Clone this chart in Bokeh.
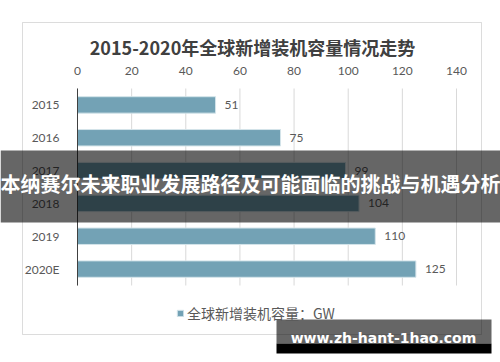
from bokeh.plotting import figure
from bokeh.models import (ColumnDataSource, Range1d, FixedTicker, Label, LinearAxis,
                          BoxAnnotation, Legend, LegendItem)
from bokeh.core.properties import value
from bokeh.embed import file_html
from bokeh.resources import INLINE

title_text = "2015-2020年全球新增装机容量情况走势"
years = ["2015", "2016", "2017", "2018", "2019", "2020E"]
capacity = [51, 75, 99, 104, 110, 125]
x_ticks = [0, 20, 40, 60, 80, 100, 120, 140]
series_name = "全球新增装机容量：GW"
banner_text = "本纳赛尔未来职业发展路径及可能面临的挑战与机遇分析"
watermark_text = "www.zh-hant-1hao.com"

CJK = "Noto Sans CJK SC"
NUM = "Lato"
BAR = "#73A2B5"
TXT = "#595959"

# canvas and plot-area geometry (pixels)
W, H = 500, 362
PL, PR, PT, PB = 77, 456, 88, 285
XMIN, XMAX = x_ticks[0], x_ticks[-1]
n = len(years)
ux = (PR - PL) / (XMAX - XMIN)
uy = (PB - PT) / n
x_range = Range1d(XMIN - PL / ux, XMAX + (W - PR) / ux)
# category i is centred at index i (top to bottom)
y_range = Range1d(start=(H - PT) / uy - 0.5, end=-PT / uy - 0.5)

def sy(px):
    return H - px

idx = list(range(n))
src = ColumnDataSource(dict(pos=idx, year=years, cap=capacity, lab=[str(v) for v in capacity]))

p = figure(width=W, height=H, output_backend="svg", toolbar_location=None,
           x_range=x_range, y_range=y_range, x_axis_location=None, y_axis_location=None,
           min_border=0)
p.outline_line_color = None
p.background_fill_color = "white"
p.border_fill_color = "white"
p.xgrid.visible = False
p.ygrid.visible = False

# outer chart border
p.add_layout(BoxAnnotation(left=22, right=481, bottom=sy(334), top=sy(22),
                           left_units="screen", right_units="screen",
                           bottom_units="screen", top_units="screen",
                           fill_color=None, line_color="#8c8c8c", line_width=1, level="underlay"))

# vertical grid lines
p.segment(x0=x_ticks, x1=x_ticks, y0=[-0.5] * len(x_ticks), y1=[n - 0.5] * len(x_ticks),
          line_color="#d9d9d9", line_width=1)

bars = p.hbar(y="pos", right="cap", left=0, height=0.5, source=src,
              fill_color=BAR, line_color="#d4e4ea", line_width=1)
p.text(x="cap", y="pos", text="lab", source=src, x_offset=9, text_baseline="middle",
       text_font=value(NUM), text_font_size="12px", text_color=TXT)

xa = LinearAxis(fixed_location=-0.5, ticker=FixedTicker(ticks=x_ticks), bounds=(XMIN, XMAX))
xa.axis_line_color = None
xa.major_tick_line_color = None
xa.minor_tick_line_color = None
xa.major_label_standoff = 8
xa.major_label_text_font = NUM
xa.major_label_text_font_size = "12px"
xa.major_label_text_color = TXT
p.add_layout(xa, "above")

ya = LinearAxis(fixed_location=0, ticker=FixedTicker(ticks=idx), bounds=(-0.5, n - 0.5),
                major_label_overrides={i: y for i, y in zip(idx, years)})
ya.axis_line_color = "#404040"
ya.axis_line_width = 1
ya.major_tick_line_color = None
ya.minor_tick_line_color = None
ya.major_label_standoff = 12
ya.major_label_text_font = NUM
ya.major_label_text_font_size = "12px"
ya.major_label_text_color = TXT
p.add_layout(ya, "left")

p.add_layout(Label(x=252, y=sy(46), x_units="screen", y_units="screen", text=title_text,
                   text_align="center", text_baseline="middle", text_font=CJK,
                   text_font_style="bold", text_font_size="18px", text_color="#404040"))

legend = Legend(items=[LegendItem(label=series_name, renderers=[bars])],
                location=(176, sy(323)), orientation="horizontal", border_line_color=None,
                background_fill_alpha=0, padding=0, margin=0, glyph_width=8, glyph_height=8,
                label_standoff=3, label_text_font=CJK, label_text_font_size="14px",
                label_text_color=TXT)
p.add_layout(legend, "center")

# overlay banner
p.add_layout(BoxAnnotation(left=0, right=W, bottom=sy(222), top=sy(150),
                           left_units="screen", right_units="screen",
                           bottom_units="screen", top_units="screen",
                           fill_color="black", fill_alpha=0.6, line_color=None))
p.add_layout(Label(x=250, y=sy(183), x_units="screen", y_units="screen", text=banner_text,
                   text_align="center", text_baseline="middle", text_font=CJK,
                   text_font_style="bold", text_font_size="20px", text_color="white"))

# watermark
p.add_layout(BoxAnnotation(left=276, right=491, bottom=sy(343), top=sy(319),
                           left_units="screen", right_units="screen",
                           bottom_units="screen", top_units="screen",
                           fill_color="black", fill_alpha=0.6, line_color=None))
p.add_layout(BoxAnnotation(left=276, right=491, bottom=sy(353), top=sy(343),
                           left_units="screen", right_units="screen",
                           bottom_units="screen", top_units="screen",
                           fill_color="black", fill_alpha=1, line_color=None))
p.add_layout(Label(x=383, y=sy(337), x_units="screen", y_units="screen", text=watermark_text,
                   text_align="center", text_baseline="middle", text_font="DejaVu Sans",
                   text_font_style="bold", text_font_size="14px", text_color="white"))

open("out.html", "w").write(file_html(p, INLINE))
